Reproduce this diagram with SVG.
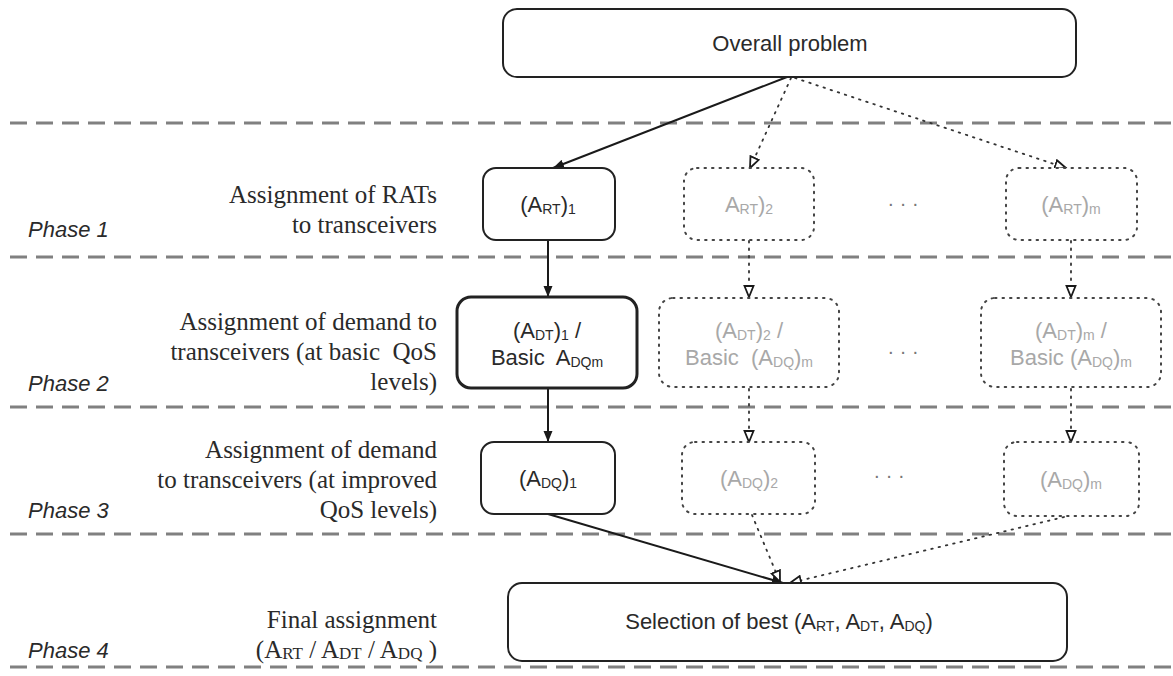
<svg xmlns="http://www.w3.org/2000/svg" width="1173" height="676" viewBox="0 0 1173 676">
  <style>
    .sep { stroke: #808080; stroke-width: 3; stroke-dasharray: 17 9; fill: none; }
    .node { fill: #ffffff; stroke: #222222; stroke-width: 2; }
    .node-thick { fill: #ffffff; stroke: #222222; stroke-width: 3; }
    .ghost { fill: #ffffff; stroke: #444444; stroke-width: 2; stroke-dasharray: 1.5 6; stroke-linecap: round; }
    .lbl { font-family: "Liberation Sans", Arial, sans-serif; font-size: 22px; fill: #2a2a2a; text-anchor: middle; }
    .lbl-ghost { font-family: "Liberation Sans", Arial, sans-serif; font-size: 22px; fill: #a8a8a8; text-anchor: middle; }
    .sub { font-size: 14px; }
    .phase { font-family: "Liberation Sans", Arial, sans-serif; font-size: 22px; font-style: italic; fill: #2a2a2a; }
    .desc { font-family: "Liberation Serif", "Times New Roman", serif; font-size: 25px; fill: #2a2a2a; text-anchor: end; }
    .desc .s { font-size: 17px; }
    .dots { font-family: "Liberation Sans", Arial, sans-serif; font-size: 20px; fill: #777777; text-anchor: middle; }
    .solid { stroke: #1a1a1a; stroke-width: 2; fill: none; marker-end: url(#head-solid); }
    .dotted { stroke: #333333; stroke-width: 1.8; stroke-dasharray: 1.5 6; stroke-linecap: round; fill: none; marker-end: url(#head-open); }
  </style>
  <defs>
    <marker id="head-solid" markerWidth="12" markerHeight="10" refX="11" refY="5" orient="auto" markerUnits="userSpaceOnUse">
      <path d="M0,0.5 L11,5 L0,9.5 Z" fill="#1a1a1a"/>
    </marker>
    <marker id="head-open" markerWidth="14" markerHeight="12" refX="12" refY="6" orient="auto" markerUnits="userSpaceOnUse">
      <path d="M1,1.5 L12,6 L1,10.5 Z" fill="#ffffff" stroke="#1a1a1a" stroke-width="1.8"/>
    </marker>
  </defs>

  <rect width="1173" height="676" fill="#ffffff"/>

  <!-- phase separators -->
  <g id="separators">
    <line class="sep" x1="10" y1="123" x2="1173" y2="123"/>
    <line class="sep" x1="10" y1="257" x2="1173" y2="257"/>
    <line class="sep" x1="10" y1="407" x2="1173" y2="407"/>
    <line class="sep" x1="10" y1="534" x2="1173" y2="534"/>
    <line class="sep" x1="10" y1="667" x2="1173" y2="667"/>
  </g>

  <!-- phase names and descriptions -->
  <g id="phase-labels">
    <text class="phase" x="28" y="237">Phase 1</text>
    <text class="phase" x="28" y="391">Phase 2</text>
    <text class="phase" x="28" y="518">Phase 3</text>
    <text class="phase" x="28" y="658">Phase 4</text>

    <text class="desc" x="437" y="203">Assignment of RATs</text>
    <text class="desc" x="437" y="233">to transceivers</text>

    <text class="desc" x="437" y="330">Assignment of demand to</text>
    <text class="desc" x="437" y="360" xml:space="preserve">transceivers (at basic  QoS</text>
    <text class="desc" x="437" y="390">levels)</text>

    <text class="desc" x="437" y="458">Assignment of demand</text>
    <text class="desc" x="437" y="488">to transceivers (at improved</text>
    <text class="desc" x="437" y="518">QoS levels)</text>

    <text class="desc" x="437" y="628">Final assignment</text>
    <text class="desc" x="437" y="658">(A<tspan class="s" dy="1">RT</tspan><tspan dy="-1"> / A</tspan><tspan class="s" dy="1">DT</tspan><tspan dy="-1"> / A</tspan><tspan class="s" dy="1">DQ</tspan><tspan dy="-1"> )</tspan></text>
  </g>

  <!-- connectors -->
  <g id="connectors">
    <line class="solid" x1="787" y1="77" x2="553" y2="168"/>
    <line class="dotted" x1="791" y1="78" x2="750" y2="168"/>
    <line class="dotted" x1="795" y1="78" x2="1066" y2="168"/>

    <line class="solid" x1="548" y1="241" x2="548" y2="297"/>
    <line class="dotted" x1="749" y1="241" x2="749" y2="297"/>
    <line class="dotted" x1="1071" y1="241" x2="1071" y2="297"/>

    <line class="solid" x1="548" y1="389" x2="548" y2="442"/>
    <line class="dotted" x1="749" y1="389" x2="749" y2="442"/>
    <line class="dotted" x1="1071" y1="389" x2="1071" y2="442"/>

    <line class="solid" x1="548" y1="514" x2="783" y2="583"/>
    <line class="dotted" x1="752" y1="515" x2="780" y2="582"/>
    <line class="dotted" x1="1064" y1="517" x2="790" y2="583"/>
  </g>

  <!-- nodes -->
  <g id="overall">
    <rect class="node" x="503" y="9" width="573" height="68" rx="14"/>
    <text class="lbl" x="790" y="51">Overall problem</text>
  </g>

  <g id="art-1">
    <rect class="node" x="483" y="168" width="132" height="72" rx="13"/>
    <text class="lbl" x="548" y="212">(A<tspan class="sub" dy="2">RT</tspan><tspan dy="-2">)</tspan><tspan class="sub" dy="2">1</tspan></text>
  </g>
  <g id="art-2">
    <rect class="ghost" x="684" y="168" width="130" height="72" rx="13"/>
    <text class="lbl-ghost" x="749" y="212">A<tspan class="sub" dy="2">RT</tspan><tspan dy="-2">)</tspan><tspan class="sub" dy="2">2</tspan></text>
  </g>
  <text class="dots" x="903" y="210">· · ·</text>
  <g id="art-m">
    <rect class="ghost" x="1006" y="168" width="131" height="72" rx="13"/>
    <text class="lbl-ghost" x="1071" y="212">(A<tspan class="sub" dy="2">RT</tspan><tspan dy="-2">)</tspan><tspan class="sub" dy="2">m</tspan></text>
  </g>

  <g id="adt-1">
    <rect class="node-thick" x="457" y="297" width="180" height="91" rx="14"/>
    <text class="lbl" x="547" y="338">(A<tspan class="sub" dy="2">DT</tspan><tspan dy="-2">)</tspan><tspan class="sub" dy="2">1</tspan><tspan dy="-2"> /</tspan></text>
    <text class="lbl" x="547" y="365" xml:space="preserve">Basic  A<tspan class="sub" dy="2">DQm</tspan></text>
  </g>
  <g id="adt-2">
    <rect class="ghost" x="659" y="298" width="180" height="89" rx="14"/>
    <text class="lbl-ghost" x="749" y="338">(A<tspan class="sub" dy="2">DT</tspan><tspan dy="-2">)</tspan><tspan class="sub" dy="2">2</tspan><tspan dy="-2"> /</tspan></text>
    <text class="lbl-ghost" x="749" y="365" xml:space="preserve">Basic  (A<tspan class="sub" dy="2">DQ</tspan><tspan dy="-2">)</tspan><tspan class="sub" dy="2">m</tspan></text>
  </g>
  <text class="dots" x="903" y="358">· · ·</text>
  <g id="adt-m">
    <rect class="ghost" x="981" y="298" width="180" height="89" rx="14"/>
    <text class="lbl-ghost" x="1071" y="338">(A<tspan class="sub" dy="2">DT</tspan><tspan dy="-2">)</tspan><tspan class="sub" dy="2">m</tspan><tspan dy="-2"> /</tspan></text>
    <text class="lbl-ghost" x="1071" y="365">Basic (A<tspan class="sub" dy="2">DQ</tspan><tspan dy="-2">)</tspan><tspan class="sub" dy="2">m</tspan></text>
  </g>

  <g id="adq-1">
    <rect class="node" x="481" y="442" width="134" height="72" rx="13"/>
    <text class="lbl" x="548" y="486">(A<tspan class="sub" dy="2">DQ</tspan><tspan dy="-2">)</tspan><tspan class="sub" dy="2">1</tspan></text>
  </g>
  <g id="adq-2">
    <rect class="ghost" x="682" y="442" width="133" height="72" rx="13"/>
    <text class="lbl-ghost" x="749" y="486">(A<tspan class="sub" dy="2">DQ</tspan><tspan dy="-2">)</tspan><tspan class="sub" dy="2">2</tspan></text>
  </g>
  <text class="dots" x="889" y="482">· · ·</text>
  <g id="adq-m">
    <rect class="ghost" x="1004" y="442" width="135" height="74" rx="13"/>
    <text class="lbl-ghost" x="1071" y="487">(A<tspan class="sub" dy="2">DQ</tspan><tspan dy="-2">)</tspan><tspan class="sub" dy="2">m</tspan></text>
  </g>

  <g id="selection">
    <rect class="node" x="508" y="583" width="559" height="78" rx="14"/>
    <text class="lbl" x="779" y="629">Selection of best (A<tspan class="sub" dy="2">RT</tspan><tspan dy="-2">, A</tspan><tspan class="sub" dy="2">DT</tspan><tspan dy="-2">, A</tspan><tspan class="sub" dy="2">DQ</tspan><tspan dy="-2">)</tspan></text>
  </g>
</svg>
